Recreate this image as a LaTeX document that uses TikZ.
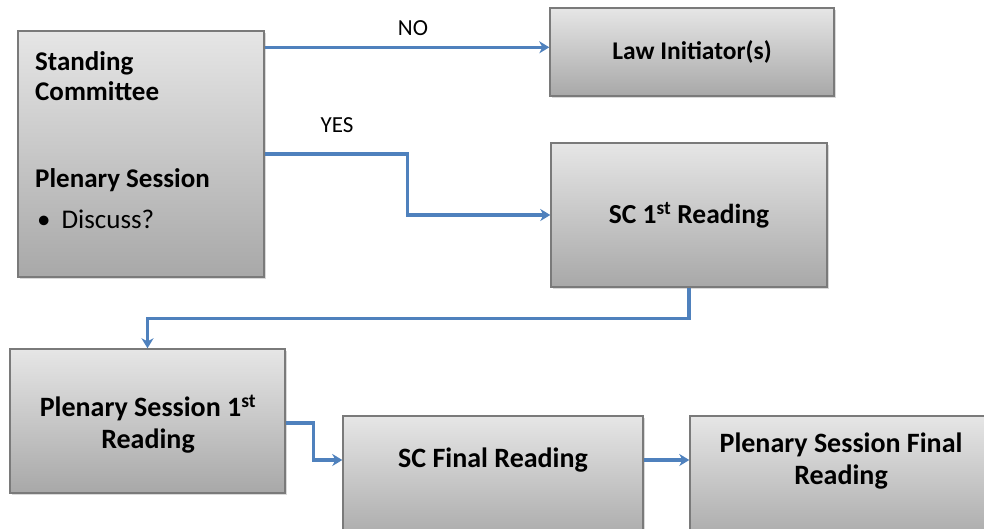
\documentclass[tikz,border=0pt]{standalone}
\usepackage{fontspec}
\setmainfont{Carlito}
\usetikzlibrary{arrows.meta,shadows}
\definecolor{arrowblue}{HTML}{4F81BD}
\definecolor{boxborder}{HTML}{7A7A7A}
\definecolor{boxtop}{HTML}{E6E6E6}
\definecolor{boxbot}{HTML}{A8A8A8}
\begin{document}
\begin{tikzpicture}[x=1pt,y=-1pt,
  box/.style={draw=boxborder, line width=1.4pt, top color=boxtop, bottom color=boxbot,
    drop shadow={shadow xshift=2pt,shadow yshift=-2pt,opacity=0.3},
    inner sep=0pt, font=\fontsize{26}{32}\selectfont\bfseries, align=center},
  boxtext/.style={font=\fontsize{28}{32}\selectfont\bfseries, align=center, inner sep=0pt},
  lefttext/.style={anchor=base west, inner sep=0pt, font=\fontsize{27}{32}\selectfont},
  conn/.style={draw=arrowblue, line width=3.2pt, -{Stealth[length=10pt,width=12pt,inset=3pt]}},
  lbl/.style={font=\fontsize{23}{27}\selectfont, inner sep=0pt}
]
\useasboundingbox (0,0) rectangle (984,528);
\clip (0,0) rectangle (984,528);

% left box
\node[box, minimum width=246pt, minimum height=246pt] (sc) at (141,154) {};
\node[lefttext] (t1) at (35,70) {\bfseries Standing};
\node[lefttext] (t2) at (35,100) {\bfseries Committee};
\node[lefttext] (t3) at (35,187) {\bfseries Plenary Session};
\node[lefttext] (t4) at (37,228) {\textbullet\hspace{11pt}Discuss?};

% right upper boxes
\node[box, minimum width=284pt, minimum height=88pt, font=\fontsize{25.5}{30}\selectfont\bfseries] (law) at (692,52) {Law Initiator(s)};
\node[box, minimum width=276pt, minimum height=144pt, font=\fontsize{27.5}{32}\selectfont\bfseries] (sc1) at (689,215) {SC 1\textsuperscript{st} Reading};

% bottom boxes
\node[box, minimum width=275pt, minimum height=144pt] (ps1) at (147.5,421) {};
\node[boxtext] (ps1t) at (148,424) {Plenary Session 1\textsuperscript{st}\\Reading};
\node[box, minimum width=300pt, minimum height=128pt] (scf) at (493,480) {};
\node[boxtext] (scft) at (493,460) {SC Final Reading};
\node[box, minimum width=302pt, minimum height=128pt] (psf) at (841,480) {};
\node[boxtext] (psft) at (841,461) {Plenary Session Final\\Reading};

% connectors
\coordinate (noS) at ([yshift=-17pt]sc.north east);
\draw[conn] (noS) -- (noS -| law.west);
\node[lbl] (no) at (413,28) {NO};
\draw[conn] (sc.east) -- ++(143,0) |- (sc1.west);
\node[lbl] (yes) at (337,125) {YES};
\draw[conn] (sc1.south) -- ++(0,31) -| (ps1.north);
\draw[conn] ([yshift=-2pt]ps1.east) -- ++(28,0) |- (scft -| scf.west);
\draw[conn] (scft -| scf.east) -- (scft -| psf.west);
\end{tikzpicture}
\end{document}
